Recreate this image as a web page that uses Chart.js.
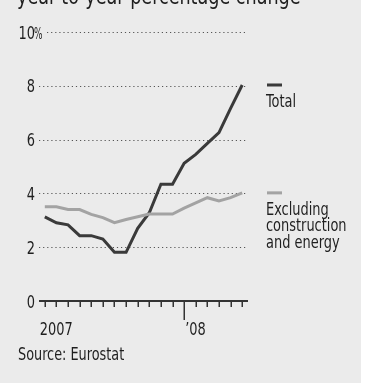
<!DOCTYPE html>
<html>
<head>
<meta charset="utf-8">
<script src="https://cdn.jsdelivr.net/npm/chart.js@4"></script>
<style>
  html, body { margin: 0; padding: 0; background: #fff; }
  #wrap { width: 365px; height: 383px; }
</style>
</head>
<body>
<div id="wrap"><canvas id="myChart" width="365" height="383"></canvas></div>
<script>
// months Jan 2007 .. Jun 2008
const months = ['Jan','Feb','Mar','Apr','May','Jun','Jul','Aug','Sep','Oct','Nov','Dec',
                'Jan','Feb','Mar','Apr','May','Jun'];
const totalValues = [3.13, 2.91, 2.83, 2.43, 2.43, 2.30, 1.81, 1.81, 2.70, 3.28, 4.34, 4.34,
                     5.12, 5.45, 5.86, 6.26, 7.16, 8.03];
const coreValues = [3.50, 3.50, 3.40, 3.40, 3.22, 3.10, 2.91, 3.03, 3.13, 3.23, 3.23, 3.23,
                    3.45, 3.65, 3.84, 3.72, 3.84, 4.02];
const yTicks = [0, 2, 4, 6, 8, 10];
const xLabels = [{ index: 0, text: '2007' }, { index: 12, text: '\u201908' }];
const seriesNames = [['Total'], ['Excluding', 'construction', 'and energy']];
const titleText = 'year-to-year percentage change';
const sourceText = 'Source: Eurostat';

const fontFam = '"DejaVu Sans Condensed", "Liberation Sans", sans-serif';
const inkColor = '#1f1f1f';
const totalColor = '#3a3a3a';
const coreColor = '#a3a3a3';
const squeeze = 0.8;

// text drawn a bit narrower, to look like the condensed face of the original
function narrowText(c, text, x, y, sx) {
    c.save();
    c.translate(x, y);
    c.scale(sx || squeeze, 1);
    c.fillText(text, 0, 0);
    c.restore();
}

const decor = {
    id: 'decor',
    beforeDraw(chart) {
        const c = chart.ctx;
        c.save();
        c.fillStyle = '#ebebeb';
        c.fillRect(0, 0, 361, 383);
        c.restore();
    },
    beforeDatasetsDraw(chart) {
        const c = chart.ctx;
        const ys = chart.scales.y;
        const area = chart.chartArea;
        c.save();
        c.strokeStyle = '#555';
        c.lineWidth = 1.2;
        c.setLineDash([1.2, 2.9]);
        yTicks.forEach(v => {
            if (v === 0) return;
            const y = Math.round(ys.getPixelForValue(v)) + 0.5;
            const x0 = v === 10 ? area.left + 8 : area.left;
            c.beginPath();
            c.moveTo(x0, y);
            c.lineTo(area.right - 1, y);
            c.stroke();
        });
        c.restore();
    },
    afterDraw(chart) {
        const c = chart.ctx;
        const xs = chart.scales.x;
        const ys = chart.scales.y;
        const area = chart.chartArea;
        const y0 = ys.getPixelForValue(0);
        c.save();
        // x axis line
        c.strokeStyle = '#333';
        c.lineWidth = 2;
        c.beginPath();
        c.moveTo(area.left, y0);
        c.lineTo(area.right, y0);
        c.stroke();
        // tick marks
        c.lineWidth = 1.5;
        months.forEach((m, i) => {
            const x = Math.round(xs.getPixelForValue(i)) + 0.25;
            const len = i === 12 ? 19 : 6;
            c.beginPath();
            c.moveTo(x, y0);
            c.lineTo(x, y0 + len);
            c.stroke();
        });
        c.fillStyle = inkColor;
        c.textBaseline = 'alphabetic';
        // y labels, right aligned against the plot
        c.font = '18px ' + fontFam;
        c.textAlign = 'right';
        ys.ticks.forEach(t => {
            narrowText(c, String(t.value), 35, ys.getPixelForValue(t.value) + 6.5);
        });
        c.textAlign = 'left';
        c.font = '16px ' + fontFam;
        narrowText(c, '%', 34, ys.getPixelForValue(10) + 6.5, 0.62);
        // x labels
        c.font = '18px ' + fontFam;
        xLabels.forEach(l => {
            const x = xs.getPixelForValue(l.index);
            narrowText(c, l.text, l.index === 0 ? x - 5 : x + 1, y0 + 34);
        });
        // title (cut at the top) and source
        c.font = '23px ' + fontFam;
        narrowText(c, titleText, 17, 4, 0.85);
        c.font = '17px ' + fontFam;
        narrowText(c, sourceText, 18, 360, 0.84);
        // legend labels at the end of each line
        const lastVals = [totalValues[totalValues.length - 1], coreValues[coreValues.length - 1]];
        const cols = [totalColor, coreColor];
        lastVals.forEach((v, k) => {
            const y = ys.getPixelForValue(v);
            c.fillStyle = cols[k];
            c.fillRect(267, y - 1.5, 15, 3);
            c.fillStyle = inkColor;
            c.font = '18px ' + fontFam;
            seriesNames[k].forEach((line, j) => {
                narrowText(c, line, 266, y + 22 + j * 16.5);
            });
        });
        c.restore();
    }
};

const ctx = document.getElementById('myChart');
new Chart(ctx, {
    type: 'line',
    data: {
        labels: months,
        datasets: [{
            label: 'Excluding construction and energy',
            data: coreValues,
            borderColor: coreColor,
            borderWidth: 3,
            pointRadius: 0,
            tension: 0,
            borderJoinStyle: 'miter'
        }, {
            label: 'Total',
            data: totalValues,
            borderColor: totalColor,
            borderWidth: 3,
            pointRadius: 0,
            tension: 0,
            borderJoinStyle: 'miter'
        }]
    },
    options: {
        responsive: false,
        animation: false,
        events: [],
        layout: { padding: { left: 0, right: 117, top: 32, bottom: 0 } },
        plugins: {
            legend: { display: false },
            tooltip: { enabled: false }
        },
        scales: {
            x: {
                type: 'category',
                offset: true,
                grid: { display: false },
                border: { display: false },
                ticks: { display: false },
                afterFit(scale) { scale.height = 82; }
            },
            y: {
                min: 0,
                max: 10,
                grid: { display: false, drawTicks: false },
                border: { display: false },
                ticks: { stepSize: 2, display: false },
                afterFit(scale) { scale.width = 39; }
            }
        }
    },
    plugins: [decor]
});
</script>
</body>
</html>
